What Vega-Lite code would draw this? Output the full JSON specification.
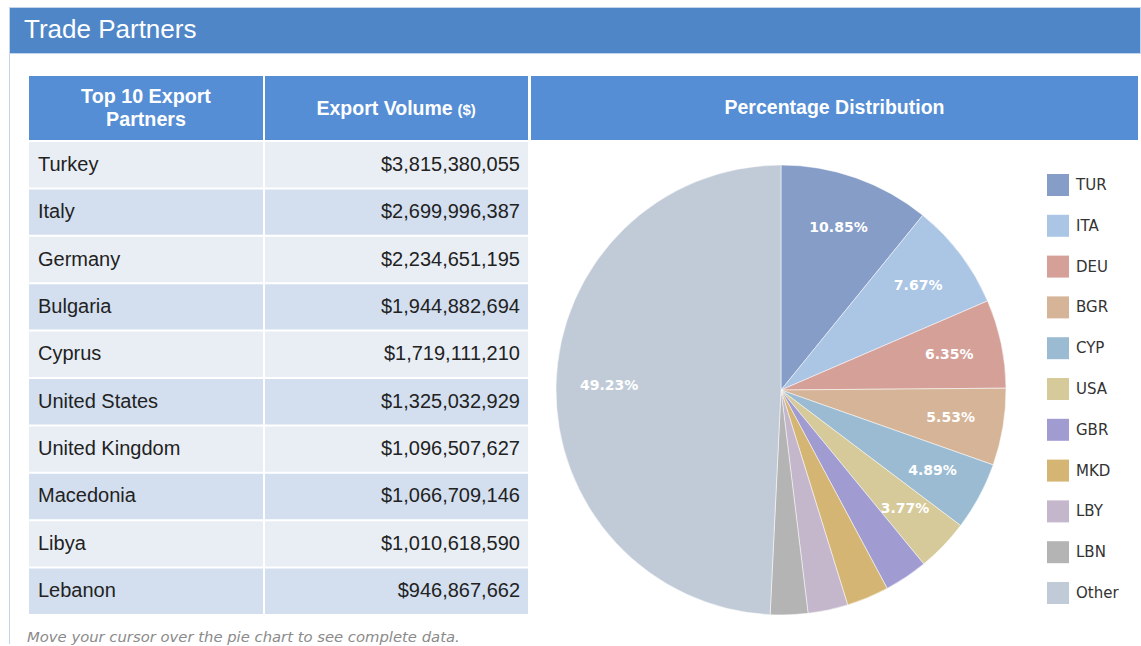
{
  "$schema": "https://vega.github.io/schema/vega-lite/v6.json",
  "background": "white",
  "padding": {"left": 8, "top": 6, "right": 0, "bottom": 0},
  "config": {"view": {"stroke": null}, "font": "Liberation Sans", "concat": {"spacing": 0}},
  "datasets": {
    "partners": [
      {"rank": 1, "country": "Turkey", "exports": 3815380055},
      {"rank": 2, "country": "Italy", "exports": 2699996387},
      {"rank": 3, "country": "Germany", "exports": 2234651195},
      {"rank": 4, "country": "Bulgaria", "exports": 1944882694},
      {"rank": 5, "country": "Cyprus", "exports": 1719111210},
      {"rank": 6, "country": "United States", "exports": 1325032929},
      {"rank": 7, "country": "United Kingdom", "exports": 1096507627},
      {"rank": 8, "country": "Macedonia", "exports": 1066709146},
      {"rank": 9, "country": "Libya", "exports": 1010618590},
      {"rank": 10, "country": "Lebanon", "exports": 946867662}
    ],
    "shares": [
      {"rank": 1, "code": "TUR", "share": 0.1085},
      {"rank": 2, "code": "ITA", "share": 0.0767},
      {"rank": 3, "code": "DEU", "share": 0.0635},
      {"rank": 4, "code": "BGR", "share": 0.0553},
      {"rank": 5, "code": "CYP", "share": 0.0489},
      {"rank": 6, "code": "USA", "share": 0.0377},
      {"rank": 7, "code": "GBR", "share": 0.0312},
      {"rank": 8, "code": "MKD", "share": 0.0303},
      {"rank": 9, "code": "LBY", "share": 0.0287},
      {"rank": 10, "code": "LBN", "share": 0.0269},
      {"rank": 11, "code": "Other", "share": 0.4923}
    ]
  },
  "spacing": 0,
  "resolve": {"scale": {"color": "independent", "x": "independent", "y": "independent"}},
  "vconcat": [
    {
      "width": 1131,
      "height": 46,
      "view": {"fill": "#4F86C8", "stroke": "#C3D5EC"},
      "data": {"values": [{"label": "Trade Partners"}]},
      "mark": {"type": "text", "align": "left", "baseline": "middle", "dx": 15, "fontSize": 26, "fill": "white", "font": "Liberation Sans"},
      "encoding": {
        "text": {"field": "label"},
        "x": {"datum": 0, "type": "quantitative", "scale": {"domain": [0, 1]}, "axis": null}
      }
    },
    {
      "spacing": 17,
      "resolve": {"scale": {"color": "independent", "x": "independent", "y": "independent"}},
      "hconcat": [
        {"width": 1, "height": 590, "view": {"fill": "#C3D5EC"}, "data": {"values": []}, "mark": "point"},
        {
          "spacing": 2,
          "resolve": {"scale": {"color": "independent", "x": "independent", "y": "independent"}},
          "vconcat": [
            {"width": 1, "height": 20, "data": {"values": []}, "mark": "point"},
            {
              "spacing": 3,
              "title": {"text": "Move your cursor over the pie chart to see complete data.", "orient": "bottom", "anchor": "start", "dx": -2, "offset": 14, "font": "DejaVu Sans", "fontStyle": "italic", "fontWeight": "normal", "fontSize": 14.8, "color": "#8A8A8A"},
              "resolve": {"scale": {"color": "independent", "x": "independent", "y": "independent"}},
              "hconcat": [
                {
                  "spacing": 2,
                  "resolve": {"scale": {"color": "independent", "x": "independent", "y": "independent"}},
                  "vconcat": [
                    {
                      "spacing": 2,
                      "resolve": {"scale": {"color": "independent", "x": "independent", "y": "independent"}},
                      "hconcat": [
                        {
                          "width": 234,
                          "height": 64,
                          "view": {"fill": "#558ED5"},
                          "data": {"values": [{"label": "Top 10 Export\nPartners"}]},
                          "mark": {"type": "text", "align": "center", "baseline": "middle", "lineBreak": "\n", "lineHeight": 23, "dy": -11.5, "fontSize": 19.7, "fontWeight": "bold", "fill": "white", "font": "Liberation Sans"},
                          "encoding": {"text": {"field": "label"}}
                        },
                        {
                          "width": 263,
                          "height": 64,
                          "view": {"fill": "#558ED5"},
                          "data": {"values": [{"label": "Export Volume", "unit": "($)"}]},
                          "layer": [
                            {
                              "mark": {"type": "text", "align": "left", "baseline": "alphabetic", "dx": -80, "dy": 7, "fontSize": 19.5, "fontWeight": "bold", "fill": "white", "font": "Liberation Sans"},
                              "encoding": {"text": {"field": "label"}}
                            },
                            {
                              "mark": {"type": "text", "align": "left", "baseline": "alphabetic", "dx": 61, "dy": 7, "fontSize": 15, "fontWeight": "bold", "fill": "white", "font": "Liberation Sans"},
                              "encoding": {"text": {"field": "unit"}}
                            }
                          ]
                        }
                      ]
                    },
                    {
                      "spacing": 2,
                      "resolve": {"scale": {"color": "independent", "x": "independent", "y": "independent"}},
                      "hconcat": [
                        {
                          "width": 234,
                          "height": 472,
                          "data": {"name": "partners"},
                          "encoding": {
                            "y": {"field": "country", "type": "nominal", "sort": {"field": "rank", "op": "min"}, "scale": {"paddingInner": 0.042, "paddingOuter": 0}, "axis": null}
                          },
                          "layer": [
                            {
                              "mark": {"type": "rect"},
                              "encoding": {
                                "x": {"datum": 0, "type": "quantitative", "scale": {"domain": [0, 1]}, "axis": null},
                                "x2": {"datum": 1},
                                "color": {"field": "country", "type": "nominal", "legend": null,
                                  "scale": {"domain": ["Turkey", "Italy", "Germany", "Bulgaria", "Cyprus", "United States", "United Kingdom", "Macedonia", "Libya", "Lebanon"],
                                    "range": ["#E9EEF5", "#D3DFEF", "#E9EEF5", "#D3DFEF", "#E9EEF5", "#D3DFEF", "#E9EEF5", "#D3DFEF", "#E9EEF5", "#D3DFEF"]}}
                              }
                            },
                            {
                              "mark": {"type": "text", "align": "left", "baseline": "middle", "dx": 9, "fontSize": 20, "fill": "#222222", "font": "Liberation Sans"},
                              "encoding": {
                                "x": {"datum": 0, "type": "quantitative", "scale": {"domain": [0, 1]}, "axis": null},
                                "text": {"field": "country"}
                              }
                            }
                          ]
                        },
                        {
                          "width": 263,
                          "height": 472,
                          "data": {"name": "partners"},
                          "encoding": {
                            "y": {"field": "country", "type": "nominal", "sort": {"field": "rank", "op": "min"}, "scale": {"paddingInner": 0.042, "paddingOuter": 0}, "axis": null}
                          },
                          "layer": [
                            {
                              "mark": {"type": "rect"},
                              "encoding": {
                                "x": {"datum": 0, "type": "quantitative", "scale": {"domain": [0, 1]}, "axis": null},
                                "x2": {"datum": 1},
                                "color": {"field": "country", "type": "nominal", "legend": null,
                                  "scale": {"domain": ["Turkey", "Italy", "Germany", "Bulgaria", "Cyprus", "United States", "United Kingdom", "Macedonia", "Libya", "Lebanon"],
                                    "range": ["#E9EEF5", "#D3DFEF", "#E9EEF5", "#D3DFEF", "#E9EEF5", "#D3DFEF", "#E9EEF5", "#D3DFEF", "#E9EEF5", "#D3DFEF"]}}
                              }
                            },
                            {
                              "mark": {"type": "text", "align": "right", "baseline": "middle", "dx": -8, "fontSize": 20, "fill": "#222222", "font": "Liberation Sans"},
                              "encoding": {
                                "x": {"datum": 1, "type": "quantitative", "scale": {"domain": [0, 1]}, "axis": null},
                                "text": {"field": "exports", "type": "quantitative", "format": "$,.0f"}
                              }
                            }
                          ]
                        }
                      ]
                    }
                  ]
                },
                {
                  "spacing": 24,
                  "resolve": {"scale": {"color": "independent", "x": "independent", "y": "independent"}},
                  "vconcat": [
                    {
                      "width": 607,
                      "height": 64,
                      "view": {"fill": "#558ED5"},
                      "data": {"values": [{"label": "Percentage Distribution"}]},
                      "mark": {"type": "text", "align": "center", "baseline": "middle", "fontSize": 19.5, "fontWeight": "bold", "fill": "white", "font": "Liberation Sans"},
                      "encoding": {"text": {"field": "label"}}
                    },
                    {
                      "width": 500,
                      "height": 450,
                      "data": {"name": "shares"},
                      "layer": [
                        {
                          "mark": {"type": "arc", "outerRadius": 225, "stroke": "#ffffff", "strokeWidth": 0.5},
                          "encoding": {
                            "theta": {"field": "share", "type": "quantitative", "stack": true},
                            "order": {"field": "rank", "type": "quantitative"},
                            "color": {"field": "code", "type": "nominal",
                              "scale": {"domain": ["TUR", "ITA", "DEU", "BGR", "CYP", "USA", "GBR", "MKD", "LBY", "LBN", "Other"],
                                "range": ["#869DC8", "#ABC5E4", "#D4A098", "#D6B497", "#9ABBD2", "#D6CA9A", "#A09CD2", "#D5B573", "#C4B7CC", "#B4B4B4", "#C1CBD8"]},
                              "legend": {"title": null, "orient": "none", "legendX": 516, "legendY": 9, "symbolType": "square", "symbolSize": 484, "symbolStrokeWidth": 0, "symbolOpacity": 1, "labelFont": "DejaVu Sans", "labelFontSize": 15, "labelColor": "#333333", "labelOffset": 7, "rowPadding": 18.8}
                            }
                          }
                        },
                        {
                          "mark": {"type": "text", "radius": 172, "fill": "white", "fontWeight": "bold", "fontSize": 14, "font": "DejaVu Sans", "align": "center", "baseline": "middle"},
                          "encoding": {
                            "theta": {"field": "share", "type": "quantitative", "stack": true},
                            "order": {"field": "rank", "type": "quantitative"},
                            "detail": {"field": "code", "type": "nominal"},
                            "text": {"field": "share", "type": "quantitative", "format": ".2%"},
                            "opacity": {"condition": {"test": "datum.share < 0.035", "value": 0}, "value": 1}
                          }
                        }
                      ]
                    }
                  ]
                }
              ]
            }
          ]
        }
      ]
    }
  ]
}
